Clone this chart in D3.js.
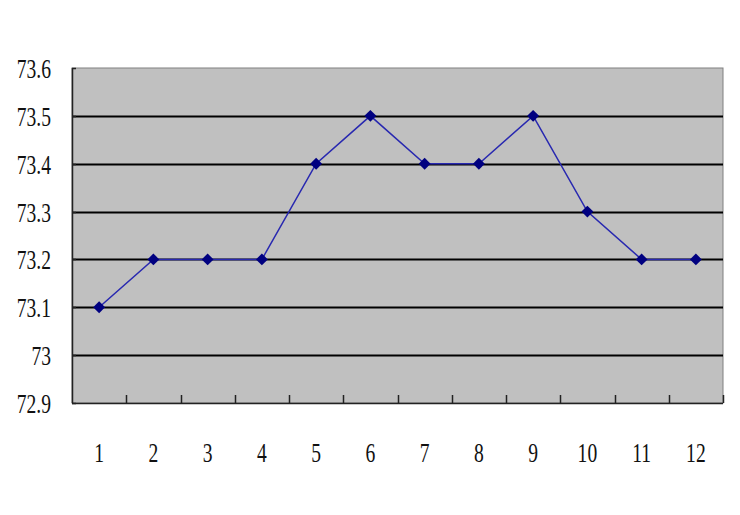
<!DOCTYPE html>
<html>
<head>
<meta charset="utf-8">
<script src="https://cdn.jsdelivr.net/npm/d3@7"></script>
<style>
  body { margin: 0; background: #fff; }
  .lbl { font-family: "Liberation Serif", serif; font-size: 28px; fill: #111; }
</style>
</head>
<body>
<div id="chart"></div>
<script>
// Line chart, months 1..12

var months = ["1","2","3","4","5","6","7","8","9","10","11","12"];
var values = [73.1, 73.2, 73.2, 73.2, 73.4, 73.5, 73.4, 73.4, 73.5, 73.3, 73.2, 73.2];
var yTicks = [72.9, 73, 73.1, 73.2, 73.3, 73.4, 73.5, 73.6];

var width = 740, height = 515;
var plot = {left: 72, top: 68, right: 723, bottom: 403};

var svg = d3.select("#chart").append("svg")
    .attr("width", width)
    .attr("height", height);

var x = d3.scaleBand()
    .domain(months)
    .range([plot.left, plot.right]);

var y = d3.scaleLinear()
    .domain([72.9, 73.6])
    .range([plot.bottom, plot.top]);

// plot area
svg.append("rect")
    .attr("x", plot.left)
    .attr("y", plot.top)
    .attr("width", plot.right - plot.left)
    .attr("height", plot.bottom - plot.top)
    .attr("fill", "#c0c0c0")
    .attr("stroke", "#808080")
    .attr("stroke-width", 1);

// gridlines
svg.selectAll("line.grid")
    .data(yTicks.slice(1, -1))
    .enter().append("line")
    .attr("class", "grid")
    .attr("x1", plot.left)
    .attr("x2", plot.right)
    .attr("y1", function(d) { return Math.round(y(d)) + 0.5; })
    .attr("y2", function(d) { return Math.round(y(d)) + 0.5; })
    .attr("stroke", "#000")
    .attr("stroke-width", 2);

// y axis
svg.append("line")
    .attr("x1", plot.left + 0.5).attr("x2", plot.left + 0.5)
    .attr("y1", plot.top).attr("y2", plot.bottom)
    .attr("stroke", "#222").attr("stroke-width", 1.5);

svg.selectAll("line.ytick")
    .data(yTicks)
    .enter().append("line")
    .attr("class", "ytick")
    .attr("x1", plot.left)
    .attr("x2", plot.left + 4)
    .attr("y1", function(d) { return Math.round(y(d)) + 0.5; })
    .attr("y2", function(d) { return Math.round(y(d)) + 0.5; })
    .attr("stroke", "#222").attr("stroke-width", 1.5);

svg.selectAll("text.ylab")
    .data(yTicks)
    .enter().append("text")
    .attr("class", "lbl ylab")
    .attr("text-anchor", "end")
    .attr("transform", function(d) { return "translate(51," + (y(d) + 10) + ") scale(0.7,1)"; })
    .text(function(d) { return d3.format("")(d); });

// x axis
svg.append("line")
    .attr("x1", plot.left).attr("x2", plot.right)
    .attr("y1", plot.bottom + 0.5).attr("y2", plot.bottom + 0.5)
    .attr("stroke", "#222").attr("stroke-width", 1.5);

var bounds = months.map(function(m) { return x(m) + x.bandwidth(); });
svg.selectAll("line.xtick")
    .data(bounds)
    .enter().append("line")
    .attr("class", "xtick")
    .attr("x1", function(d) { return Math.round(d) + 0.5; })
    .attr("x2", function(d) { return Math.round(d) + 0.5; })
    .attr("y1", plot.bottom)
    .attr("y2", plot.bottom - 8)
    .attr("stroke", "#222").attr("stroke-width", 1.5);

svg.selectAll("text.xlab")
    .data(months)
    .enter().append("text")
    .attr("class", "lbl xlab")
    .attr("text-anchor", "middle")
    .attr("transform", function(d) { return "translate(" + (x(d) + x.bandwidth() / 2) + ",462) scale(0.7,1)"; })
    .text(function(d) { return d; });

// series
var line = d3.line()
    .x(function(d, i) { return x(months[i]) + x.bandwidth() / 2; })
    .y(function(d) { return y(d); });

svg.append("path")
    .datum(values)
    .attr("d", line)
    .attr("fill", "none")
    .attr("stroke", "#2828b0")
    .attr("stroke-width", 1.5);

svg.selectAll("path.marker")
    .data(values)
    .enter().append("path")
    .attr("class", "marker")
    .attr("d", d3.symbol().type(d3.symbolDiamond2).size(90))
    .attr("transform", function(d, i) {
        return "translate(" + (x(months[i]) + x.bandwidth() / 2) + "," + y(d) + ")";
    })
    .attr("fill", "#000080");
</script>
</body>
</html>
